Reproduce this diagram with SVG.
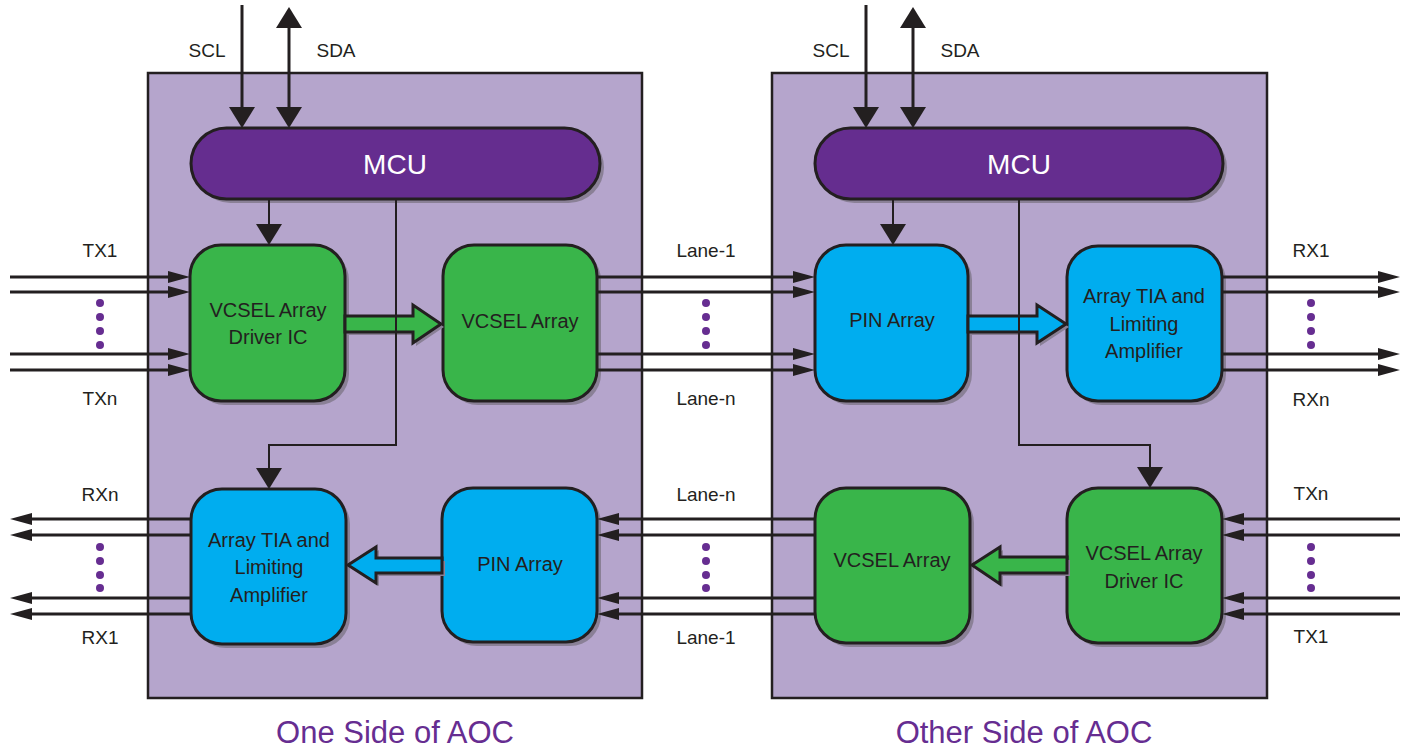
<svg xmlns="http://www.w3.org/2000/svg" width="1408" height="750" viewBox="0 0 1408 750">
<style>
.bg{fill:#ffffff}
.panel{fill:#b5a5cc;stroke:#231f20;stroke-width:2.5}
.sh{fill:#8a8096}
.mcu{fill:#652d8f;stroke:#231f20;stroke-width:3}
.grn{fill:#39b54a;stroke:#231f20;stroke-width:3}
.blu{fill:#00adef;stroke:#231f20;stroke-width:3}
.ln{fill:none;stroke:#231f20;stroke-width:3}
.ctl{fill:none;stroke:#231f20;stroke-width:2}
.dot{fill:#662d91}
text{font-family:"Liberation Sans",Arial,sans-serif;text-anchor:middle;fill:#231f20}
.lbl{font-size:19px}
.box{font-size:20px}
.mt{font-size:28px;fill:#ffffff}
.ttl{font-size:31px;fill:#662d91}
</style>
<defs>
<marker id="ah" markerUnits="userSpaceOnUse" viewBox="0 0 22 12" markerWidth="22" markerHeight="12" refX="12" refY="6" orient="auto"><path d="M0,0 L22,6 L0,12 z" fill="#231f20"/></marker>
<marker id="ab" markerUnits="userSpaceOnUse" viewBox="0 0 21 26" markerWidth="21" markerHeight="26" refX="11" refY="13" orient="auto"><path d="M0,0 L21,13 L0,26 z" fill="#231f20"/></marker>
<marker id="abs" markerUnits="userSpaceOnUse" viewBox="0 0 21 26" markerWidth="21" markerHeight="26" refX="11" refY="13" orient="auto-start-reverse"><path d="M0,0 L21,13 L0,26 z" fill="#231f20"/></marker>
</defs>
<rect class="bg" x="0" y="0" width="1408" height="750"/>
<g id="panel-left"><rect class="panel" x="148" y="73" width="494" height="625"/><text class="ttl" x="395" y="743">One Side of AOC</text></g>
<g id="panel-right"><rect class="panel" x="772" y="73" width="495" height="625"/><text class="ttl" x="1024" y="743">Other Side of AOC</text></g>

<g id="mcu-left"><rect class="sh" x="195" y="132" width="409" height="71" rx="35.5"/><rect class="mcu" x="191" y="128" width="409" height="71" rx="35.5"/><text class="mt" x="395" y="174">MCU</text></g>
<g id="mcu-right"><rect class="sh" x="819" y="132" width="408" height="71" rx="35.5"/><rect class="mcu" x="815" y="128" width="408" height="71" rx="35.5"/><text class="mt" x="1019" y="174">MCU</text></g>

<g id="driver-left"><rect class="sh" x="194" y="249" width="155" height="156" rx="31"/><rect class="grn" x="190" y="245" width="155" height="156" rx="31"/><text class="box" x="268" y="317">VCSEL Array</text><text class="box" x="268" y="344">Driver IC</text></g>
<g id="vcsel-left"><rect class="sh" x="447" y="249" width="154" height="156" rx="31"/><rect class="grn" x="443" y="245" width="154" height="156" rx="31"/><text class="box" x="520" y="328">VCSEL Array</text></g>
<g id="tia-left"><rect class="sh" x="195" y="493" width="155" height="155" rx="31"/><rect class="blu" x="191" y="489" width="155" height="155" rx="31"/><text class="box" x="269" y="547">Array TIA and</text><text class="box" x="269" y="574">Limiting</text><text class="box" x="269" y="602">Amplifier</text></g>
<g id="pin-left"><rect class="sh" x="446" y="492" width="155" height="154" rx="31"/><rect class="blu" x="442" y="488" width="155" height="154" rx="31"/><text class="box" x="520" y="571">PIN Array</text></g>

<g id="pin-right"><rect class="sh" x="819" y="249" width="153" height="156" rx="31"/><rect class="blu" x="815" y="245" width="153" height="156" rx="31"/><text class="box" x="892" y="327">PIN Array</text></g>
<g id="tia-right"><rect class="sh" x="1071" y="250" width="155" height="155" rx="31"/><rect class="blu" x="1067" y="246" width="155" height="155" rx="31"/><text class="box" x="1144" y="303">Array TIA and</text><text class="box" x="1144" y="331">Limiting</text><text class="box" x="1144" y="358">Amplifier</text></g>
<g id="vcsel-right"><rect class="sh" x="819" y="492" width="155" height="155" rx="31"/><rect class="grn" x="815" y="488" width="155" height="155" rx="31"/><text class="box" x="892" y="567">VCSEL Array</text></g>
<g id="driver-right"><rect class="sh" x="1071" y="492" width="155" height="155" rx="31"/><rect class="grn" x="1067" y="488" width="155" height="155" rx="31"/><text class="box" x="1144" y="560">VCSEL Array</text><text class="box" x="1144" y="588">Driver IC</text></g>

<g id="connectors">
<polygon class="sh" points="348,319 416,319 416,308 444,327 416,346 416,335 348,335"/>
<polygon class="grn" points="345,316 413,316 413,305 441,324 413,343 413,332 345,332"/>
<polygon class="sh" points="971,319 1040,319 1040,308 1069,327 1040,346 1040,335 971,335"/>
<polygon class="blu" points="968,316 1037,316 1037,305 1066,324 1037,343 1037,332 968,332"/>
<polygon class="sh" points="445,561 379,561 379,550 351,568 379,586 379,576 445,576"/>
<polygon class="blu" points="442,558 376,558 376,547 348,565 376,583 376,573 442,573"/>
<polygon class="sh" points="1070,560 1003,560 1003,550 975,568 1003,587 1003,576 1070,576"/>
<polygon class="grn" points="1067,557 1000,557 1000,547 972,565 1000,584 1000,573 1067,573"/>

<path class="ln" marker-end="url(#ab)" d="M242,5 V118"/>
<path class="ln" marker-start="url(#abs)" marker-end="url(#ab)" d="M289,17 V118"/>
<path class="ln" marker-end="url(#ab)" d="M866,5 V118"/>
<path class="ln" marker-start="url(#abs)" marker-end="url(#ab)" d="M913,17 V118"/>
<path class="ctl" marker-end="url(#ab)" d="M269,199 V235"/>
<path class="ctl" marker-end="url(#ab)" d="M893,199 V235"/>
<path class="ctl" marker-end="url(#ab)" d="M396,199 V445 H269 V479"/>
<path class="ctl" marker-end="url(#ab)" d="M1019,199 V445 H1150 V478"/>

<path class="ln" marker-end="url(#ah)" d="M10,277 H180"/>
<path class="ln" marker-end="url(#ah)" d="M10,292 H180"/>
<path class="ln" marker-end="url(#ah)" d="M10,354 H180"/>
<path class="ln" marker-end="url(#ah)" d="M10,370 H180"/>
<path class="ln" marker-end="url(#ah)" d="M597,277 H805"/>
<path class="ln" marker-end="url(#ah)" d="M597,292 H805"/>
<path class="ln" marker-end="url(#ah)" d="M597,354 H805"/>
<path class="ln" marker-end="url(#ah)" d="M597,370 H805"/>
<path class="ln" marker-end="url(#ah)" d="M1222,277 H1390"/>
<path class="ln" marker-end="url(#ah)" d="M1222,292 H1390"/>
<path class="ln" marker-end="url(#ah)" d="M1222,354 H1390"/>
<path class="ln" marker-end="url(#ah)" d="M1222,370 H1390"/>
<path class="ln" marker-end="url(#ah)" d="M191,519 H20"/>
<path class="ln" marker-end="url(#ah)" d="M191,535 H20"/>
<path class="ln" marker-end="url(#ah)" d="M191,598 H20"/>
<path class="ln" marker-end="url(#ah)" d="M191,614 H20"/>
<path class="ln" marker-end="url(#ah)" d="M815,519 H607"/>
<path class="ln" marker-end="url(#ah)" d="M815,535 H607"/>
<path class="ln" marker-end="url(#ah)" d="M815,598 H607"/>
<path class="ln" marker-end="url(#ah)" d="M815,614 H607"/>
<path class="ln" marker-end="url(#ah)" d="M1400,519 H1232"/>
<path class="ln" marker-end="url(#ah)" d="M1400,535 H1232"/>
<path class="ln" marker-end="url(#ah)" d="M1400,598 H1232"/>
<path class="ln" marker-end="url(#ah)" d="M1400,614 H1232"/>
</g>

<g id="dots">
<circle class="dot" cx="100" cy="303" r="4"/><circle class="dot" cx="100" cy="317" r="4"/><circle class="dot" cx="100" cy="331" r="4"/><circle class="dot" cx="100" cy="345" r="4"/>
<circle class="dot" cx="706" cy="303" r="4"/><circle class="dot" cx="706" cy="317" r="4"/><circle class="dot" cx="706" cy="331" r="4"/><circle class="dot" cx="706" cy="345" r="4"/>
<circle class="dot" cx="1311" cy="303" r="4"/><circle class="dot" cx="1311" cy="317" r="4"/><circle class="dot" cx="1311" cy="331" r="4"/><circle class="dot" cx="1311" cy="345" r="4"/>
<circle class="dot" cx="100" cy="547" r="4"/><circle class="dot" cx="100" cy="561" r="4"/><circle class="dot" cx="100" cy="575" r="4"/><circle class="dot" cx="100" cy="588" r="4"/>
<circle class="dot" cx="706" cy="547" r="4"/><circle class="dot" cx="706" cy="561" r="4"/><circle class="dot" cx="706" cy="575" r="4"/><circle class="dot" cx="706" cy="588" r="4"/>
<circle class="dot" cx="1311" cy="547" r="4"/><circle class="dot" cx="1311" cy="561" r="4"/><circle class="dot" cx="1311" cy="575" r="4"/><circle class="dot" cx="1311" cy="588" r="4"/>
</g>

<g id="labels">
<text class="lbl" x="207" y="57">SCL</text>
<text class="lbl" x="336" y="57">SDA</text>
<text class="lbl" x="831" y="57">SCL</text>
<text class="lbl" x="960" y="57">SDA</text>
<text class="lbl" x="100" y="257">TX1</text>
<text class="lbl" x="100" y="405">TXn</text>
<text class="lbl" x="706" y="257">Lane-1</text>
<text class="lbl" x="706" y="405">Lane-n</text>
<text class="lbl" x="1311" y="257">RX1</text>
<text class="lbl" x="1311" y="406">RXn</text>
<text class="lbl" x="100" y="501">RXn</text>
<text class="lbl" x="100" y="644">RX1</text>
<text class="lbl" x="706" y="501">Lane-n</text>
<text class="lbl" x="706" y="644">Lane-1</text>
<text class="lbl" x="1311" y="500">TXn</text>
<text class="lbl" x="1311" y="643">TX1</text>
</g>
</svg>
